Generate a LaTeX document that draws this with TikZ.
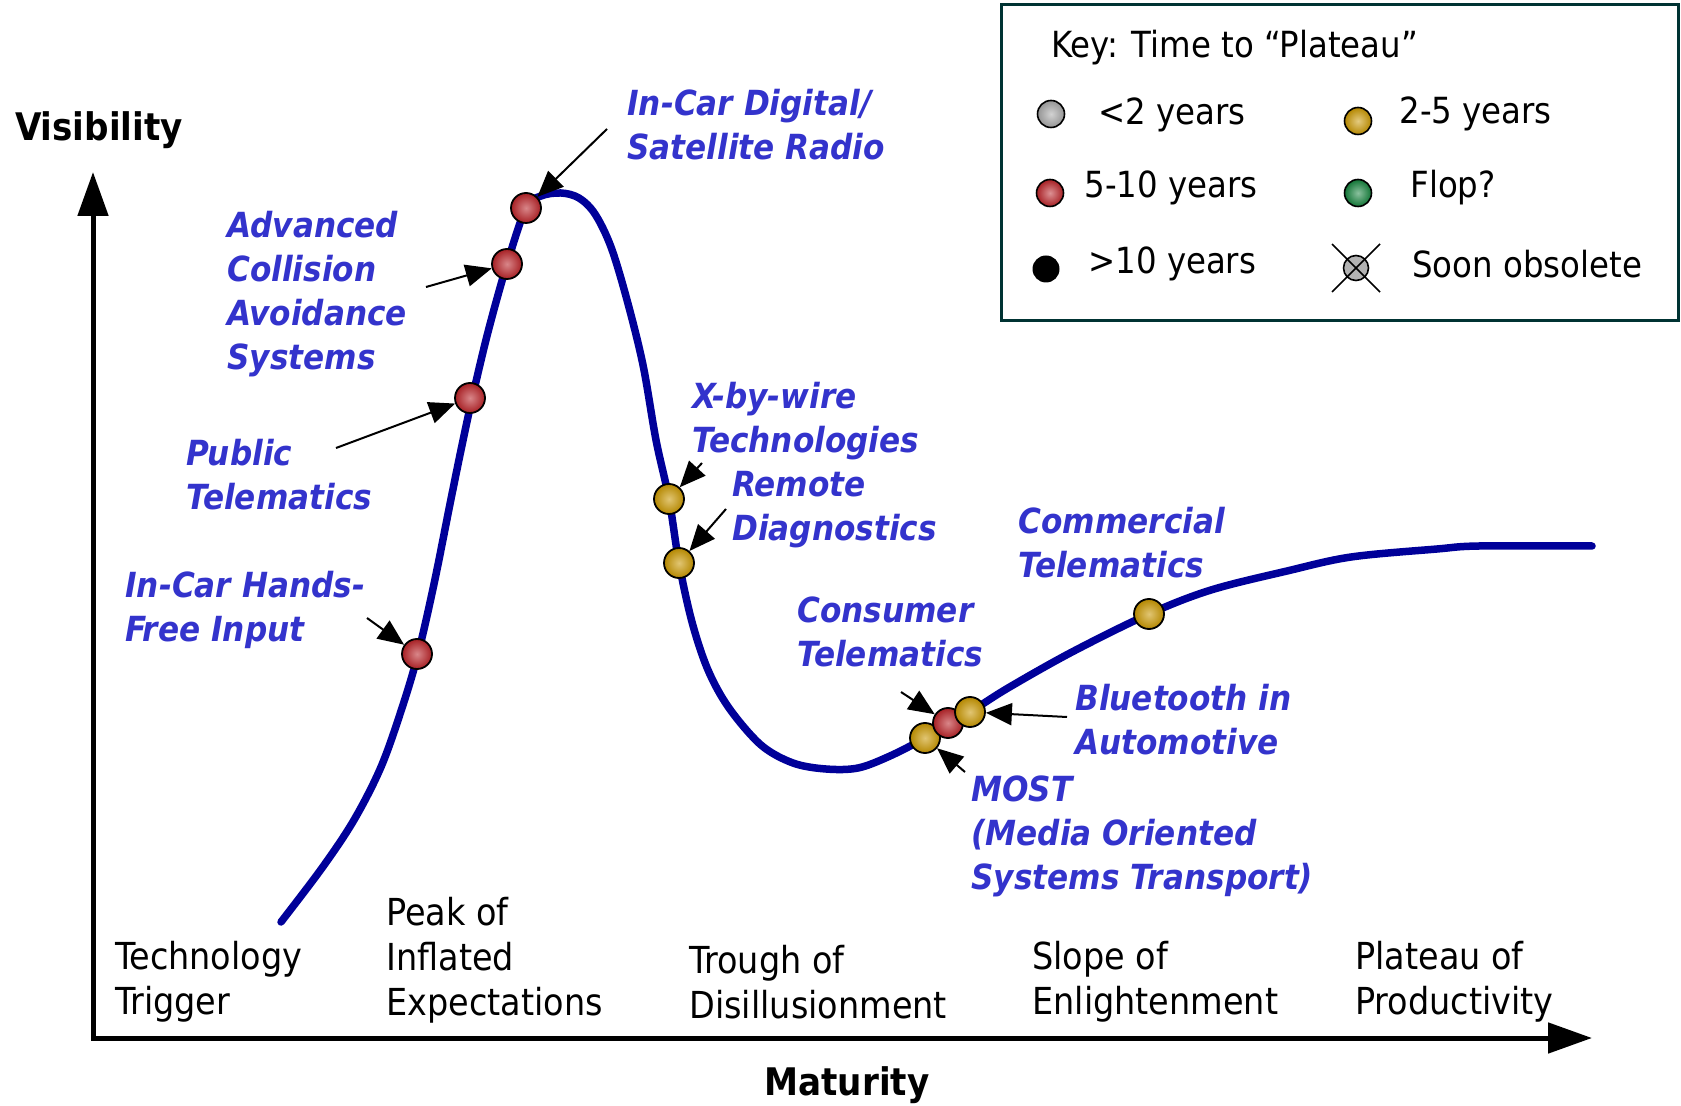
\documentclass[tikz,border=0pt]{standalone}
\usepackage{fontspec}
\setmainfont{DejaVu Sans Condensed}[BoldFont={DejaVu Sans Condensed Bold},ItalicFont={DejaVu Sans Condensed Oblique},BoldItalicFont={DejaVu Sans Condensed Bold Oblique}]
\usetikzlibrary{arrows.meta}
\definecolor{curveblue}{RGB}{0,0,153}
\definecolor{labelblue}{RGB}{51,51,204}
\definecolor{keyframe}{RGB}{0,51,51}
\definecolor{dotred}{RGB}{185,35,40}
\definecolor{dotgold}{RGB}{200,150,0}
\definecolor{dotgreen}{RGB}{20,130,60}
\definecolor{dotgrey}{RGB}{165,165,165}
\tikzset{
  techlabel/.style={anchor=west,align=left,inner sep=0pt,text=labelblue,font=\fontsize{17.3}{22}\selectfont\bfseries\itshape},
  phaselabel/.style={anchor=west,align=left,inner sep=0pt,font=\fontsize{18.6}{22.5}\selectfont},
  keytext/.style={anchor=west,inner sep=0pt,font=\fontsize{18}{22}\selectfont},
  hypedot/.style={circle,draw=black,line width=0.9pt,minimum size=15pt,inner sep=0pt,inner color=#1!55!white,outer color=#1!90!black},
  keydot/.style={circle,draw=black,line width=0.8pt,minimum size=13.5pt,inner sep=0pt,inner color=#1!50!white,outer color=#1!90!black},
  pointer/.style={line width=1pt,-{Triangle[length=13pt,width=11pt]}},
  axis/.style={line width=2.5pt,{Triangle[length=22pt,width=15pt]}-{Triangle[length=22pt,width=15pt]}},
}
\begin{document}
\begin{tikzpicture}[x=0.5pt,y=-0.5pt]
\useasboundingbox (0,0) rectangle (1681,1106);

\coordinate (ytop) at (93,172);
\coordinate (origin) at (93,1038);
\coordinate (xend) at (1592,1038);
\draw[axis] (ytop) -- (origin) -- (xend);
\node[font=\fontsize{19}{22}\selectfont\bfseries] (vis) at (99,130) {Visibility};
\node[font=\fontsize{19}{22}\selectfont\bfseries] (mat) at (847,1085) {Maturity};

\draw[curveblue,line width=3.75pt,line cap=round,line join=round] plot[smooth,tension=0.55] coordinates {
  (281,922) (322,868) (354,820) (381,767) (402,708) (418,654) (434,584) (450,504)
  (461,450) (472,399) (488,332) (507,264) (526,208) (541,196) (561,193) (579,198)
  (595,214) (611,247) (627,300) (643,365) (656,440) (669,499) (679,563) (692,622)
  (708,670) (729,708) (761,745) (793,763) (826,769) (858,768) (890,756) (925,738)
  (948,723) (970,712) (1008,688) (1072,652) (1149,614) (1211,590) (1287,571)
  (1351,557) (1437,549) (1479,546) (1592,546)};

\node[hypedot=dotred] (radio) at (526,208) {};
\node[hypedot=dotred] (collision) at (507,264) {};
\node[hypedot=dotred] (public) at (470,398) {};
\node[hypedot=dotred] (handsfree) at (417,654) {};
\node[hypedot=dotgold] (xbywire) at (669,499) {};
\node[hypedot=dotgold] (remote) at (679,563) {};
\node[hypedot=dotgold] (most) at (925,738) {};
\node[hypedot=dotred] (consumer) at (948,723) {};
\node[hypedot=dotgold] (bluetooth) at (970,712) {};
\node[hypedot=dotgold] (commercial) at (1149,614) {};

\node[techlabel] (radiotext) at (627,125) {In-Car Digital/\\Satellite Radio};
\node[techlabel] (collisiontext) at (227,294) {Advanced\\Collision\\Avoidance\\Systems};
\node[techlabel] (publictext) at (186,475) {Public\\Telematics};
\node[techlabel] (handsfreetext) at (125,610) {In-Car Hands-\\Free Input};
\node[techlabel] (xbywiretext) at (692,421) {X-by-wire\\Technologies};
\node[techlabel] (remotetext) at (732,510) {Remote\\Diagnostics};
\node[techlabel] (commercialtext) at (1018,543) {Commercial\\Telematics};
\node[techlabel] (consumertext) at (797,632) {Consumer\\Telematics};
\node[techlabel] (bluetoothtext) at (1075,720) {Bluetooth in\\Automotive};
\node[techlabel] (mosttext) at (971,836) {MOST\\(Media Oriented\\Systems Transport)};

\coordinate (t1) at (607,129);
\coordinate (t2) at (426,287);
\coordinate (t3) at (336,448);
\coordinate (t4) at (367,618);
\coordinate (t5) at (702,463);
\coordinate (t6) at (726,509);
\coordinate (t7) at (901,692);
\coordinate (t8) at (1067,717);
\coordinate (t9) at (965,772);
\draw[pointer] (t1) -- (radio);
\draw[pointer] (t2) -- (collision);
\draw[pointer] (t3) -- (public);
\draw[pointer] (t4) -- (handsfree);
\draw[pointer] (t5) -- (xbywire);
\draw[pointer] (t6) -- (remote);
\draw[pointer] (t7) -- (consumer);
\draw[pointer] (t8) -- (bluetooth);
\draw[pointer] (t9) -- (most);

\node[phaselabel] (trigger) at (115,982) {Technology\\Trigger};
\node[phaselabel] (peak) at (386,960) {Peak of\\Inflated\\Expectations};
\node[phaselabel] (trough) at (689,982) {Trough of\\Disillusionment};
\node[phaselabel] (slope) at (1032,982) {Slope of\\Enlightenment};
\node[phaselabel] (plateau) at (1355,982) {Plateau of\\Productivity};

\draw[keyframe,line width=1.5pt] (1001,5) rectangle (1678,321);
\node[keytext] (keytitle) at (1051,48) {Key: Time to “Plateau”};
\node[keydot=dotgrey] (k1) at (1051,114) {};
\node[keytext] at (1098,115) {<2 years};
\node[keydot=dotgold] (k2) at (1358,121) {};
\node[keytext] at (1399,114) {2-5 years};
\node[keydot=dotred] (k3) at (1050,193) {};
\node[keytext] at (1084,188) {5-10 years};
\node[keydot=dotgreen] (k4) at (1358,193) {};
\node[keytext] at (1410,188) {Flop?};
\node[circle,fill=black,minimum width=12.5pt,minimum height=13.5pt,inner sep=0pt] (k5) at (1046,269) {};
\node[keytext] at (1088,264) {>10 years};
\node[circle,draw=black,fill=gray!60,line width=0.8pt,minimum size=12.5pt,inner sep=0pt] (k6) at (1356,268) {};
\draw[line width=0.8pt] (1332,244) -- (1380,292);
\draw[line width=0.8pt] (1380,244) -- (1332,292);
\node[keytext] at (1412,264) {Soon obsolete};
\end{tikzpicture}
\end{document}
